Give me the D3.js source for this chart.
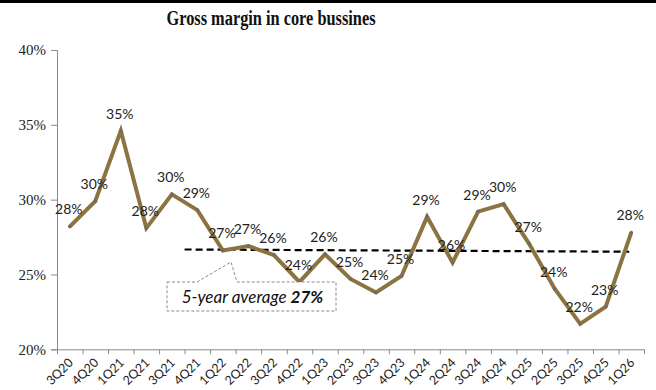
<!DOCTYPE html>
<html>
<head>
<meta charset="utf-8">
<script src="https://cdn.jsdelivr.net/npm/d3@7"></script>
<style>
  body { margin: 0; background: #fff; }
  svg { display: block; }
</style>
</head>
<body>
<svg width="656" height="390"></svg>
<script>
// quarters on the x axis
var quarters = ["3Q20","4Q20","1Q21","2Q21","3Q21","4Q21","1Q22","2Q22","3Q22","4Q22",
  "1Q23","2Q23","3Q23","4Q23","1Q24","2Q24","3Q24","4Q24","1Q25","2Q25","3Q25","4Q25","1Q26"];
// gross margin, %
var margin_pct = [28.2, 29.9, 34.6, 28.1, 30.35, 29.3, 26.6, 26.9, 26.3, 24.5,
  26.35, 24.7, 23.8, 24.9, 28.85, 25.8, 29.2, 29.7, 27.05, 24.05, 21.7, 22.85, 27.8];
// labels shown above each point
var pointLabels = ["28%","30%","35%","28%","30%","29%","27%","27%","26%","24%",
  "26%","25%","24%","25%","29%","26%","29%","30%","27%","24%","22%","23%","28%"];
// the dashed average line (start index, end index and values)
var avgIdx = [4.5, 22];
var avgVal = [26.67, 26.52];
var yTicks = [20, 25, 30, 35, 40];

var svg = d3.select("svg");
var lineColor = "#8c7441";

// top black rule
svg.append("rect").attr("x", 0).attr("y", 0).attr("width", 656).attr("height", 3).attr("fill", "#000");

// title
svg.append("text")
  .attr("x", 271).attr("y", 25)
  .attr("text-anchor", "middle")
  .attr("textLength", 209)
  .attr("lengthAdjust", "spacingAndGlyphs")
  .style("font-family", "'Liberation Serif', serif")
  .style("font-weight", "bold")
  .style("font-size", "20px")
  .attr("fill", "#111")
  .text("Gross margin in core bussines");

var plotLeft = 57, plotRight = 644, plotTop = 50, plotBottom = 349.3;

var y = d3.scaleLinear().domain([20, 40]).range([plotBottom, plotTop]);
var xi = d3.scaleLinear().domain([-0.5, quarters.length - 0.5]).range([plotLeft, plotRight]);

// y axis
var yAxis = d3.axisLeft(y).tickValues(yTicks).tickFormat(function(d) { return d + "%"; })
  .tickSize(6).tickPadding(5);
var yG = svg.append("g").attr("transform", "translate(" + plotLeft + ",0)").call(yAxis);
yG.select(".domain").attr("stroke", "#8a8a8a");
yG.selectAll(".tick line").attr("stroke", "#8a8a8a");
yG.selectAll(".tick text")
  .style("font-family", "'Liberation Serif', serif")
  .style("font-size", "15px")
  .attr("fill", "#222");

// x axis: ticks at band edges
var edges = d3.range(quarters.length + 1);
var xAxis = d3.axisBottom(d3.scaleLinear().domain([0, quarters.length]).range([plotLeft, plotRight]))
  .tickValues(edges).tickFormat("").tickSize(5).tickSizeOuter(0);
var xG = svg.append("g").attr("transform", "translate(0," + plotBottom + ")").call(xAxis);
xG.select(".domain").attr("stroke", "#8a8a8a");
xG.selectAll(".tick line").attr("stroke", "#8a8a8a");

svg.append("g").selectAll("text")
  .data(quarters)
  .enter().append("text")
  .attr("transform", function(d, i) {
    return "translate(" + (xi(i) + 1) + "," + (plotBottom + 11) + ") rotate(-45)";
  })
  .attr("text-anchor", "end")
  .attr("dy", "0.35em")
  .style("font-family", "Lato, sans-serif")
  .style("font-size", "12.5px")
  .attr("fill", "#222")
  .text(function(d) { return d; });

// average dashed line
svg.append("line")
  .attr("x1", xi(avgIdx[0])).attr("y1", y(avgVal[0]))
  .attr("x2", xi(avgIdx[1]) - 2).attr("y2", y(avgVal[1]))
  .attr("stroke", "#000").attr("stroke-width", 2.2)
  .attr("stroke-dasharray", "7,4");

// margin line
var line = d3.line()
  .x(function(d, i) { return xi(i); })
  .y(function(d) { return y(d); });

svg.append("path")
  .datum(margin_pct)
  .attr("fill", "none")
  .attr("stroke", lineColor)
  .attr("stroke-width", 4)
  .attr("stroke-linejoin", "miter")
  .attr("d", line);

svg.append("g").selectAll("circle")
  .data(margin_pct)
  .enter().append("circle")
  .attr("cx", function(d, i) { return xi(i); })
  .attr("cy", function(d) { return y(d); })
  .attr("r", 1.8)
  .attr("fill", "#6f6a68");

// point labels
svg.append("g").selectAll("text")
  .data(margin_pct)
  .enter().append("text")
  .attr("x", function(d, i) { return xi(i) - 1; })
  .attr("y", function(d) { return y(d) - 17; })
  .attr("dy", "0.35em")
  .attr("text-anchor", "middle")
  .style("font-family", "Lato, sans-serif")
  .style("font-size", "14px")
  .attr("fill", "#222")
  .text(function(d, i) { return pointLabels[i]; });

// callout box for the average
var boxX = 167, boxY = 282, boxW = 169, boxH = 29;
svg.append("path")
  .attr("d", "M" + boxX + "," + boxY + " H197 L231,262 L237," + boxY + " H" + (boxX + boxW) +
    " V" + (boxY + boxH) + " H" + boxX + " Z")
  .attr("fill", "#fff")
  .attr("stroke", "#8a8a8a")
  .attr("stroke-width", 1)
  .attr("stroke-dasharray", "3,2");

var note = svg.append("text")
  .attr("x", boxX + boxW / 2 + 1).attr("y", boxY + boxH / 2 + 1)
  .attr("dy", "0.35em")
  .attr("text-anchor", "middle")
  .style("font-family", "Lato, sans-serif")
  .style("font-size", "17px")
  .style("font-style", "italic")
  .attr("fill", "#111");
note.append("tspan").text("5-year average  ");
note.append("tspan").style("font-weight", "bold").text("27%");
</script>
</body>
</html>
